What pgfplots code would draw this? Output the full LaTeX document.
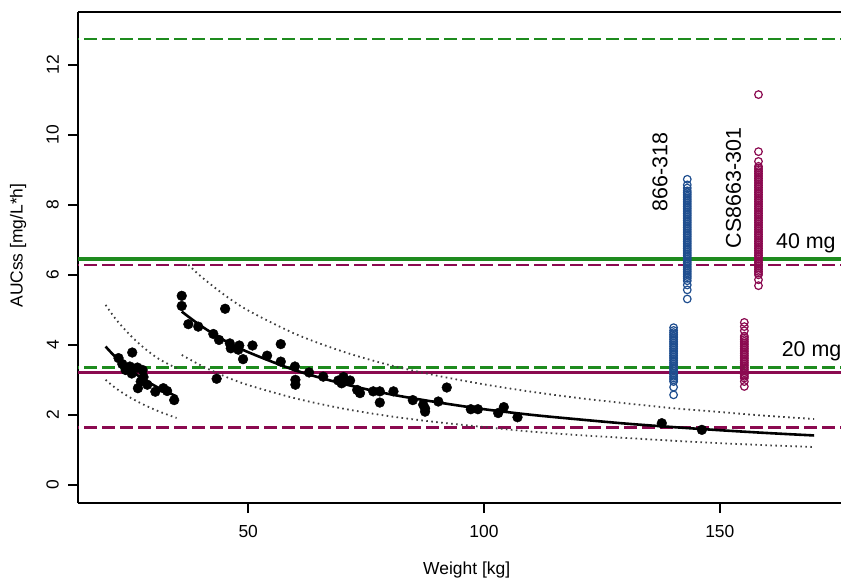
\documentclass[border=0pt]{standalone}
\usepackage{fontspec}
\setmainfont{Liberation Sans}
\usepackage{pgfplots}
\pgfplotsset{compat=1.18}
\definecolor{lgreen}{HTML}{1E8B1E}
\definecolor{lpurple}{HTML}{8B0A50}
\definecolor{lblue}{HTML}{1F4E8F}
\begin{document}
\begin{tikzpicture}
\begin{axis}[name=ax,
 width=763bp, height=491bp, scale only axis,
 xmin=13.9, xmax=175.7, ymin=-0.52, ymax=13.51,
 axis x line=box, axis y line=left,
 y axis line style={-},
 axis line style={line width=2.3bp},
 tick style={line width=2.2bp, black},
 tick align=outside, major tick length=10bp,
 tick pos=left,
 xtick={50,100,150}, ytick={0,2,...,12},
 /pgf/number format/assume math mode=true,
 ticklabel style={font=\fontsize{17.5}{20}\selectfont, inner sep=0pt},
 yticklabel style={rotate=90, anchor=south},
 xticklabel style={anchor=north},
 xticklabel shift=12bp,
 yticklabel shift=9bp,
 xlabel={Weight [kg]}, ylabel={AUCss [mg/L*h]},
 label style={font=\fontsize{17.5}{20}\selectfont},
 xlabel style={at={(axis description cs:0.5094,-0.1365)}, anchor=center},
 ylabel style={at={(axis description cs:-0.0786,0.5244)}, anchor=center, rotate=0},
 clip=true,
]
% reference lines
\addplot[lgreen, line width=2.2bp, dash pattern=on 13bp off 5bp] coordinates {(0,12.73) (200,12.73)};
\addplot[lgreen, line width=3.2bp] coordinates {(0,6.45) (200,6.45)};
\addplot[lpurple, line width=2.2bp, dash pattern=on 13bp off 5bp] coordinates {(0,6.28) (200,6.28)};
\addplot[lgreen, line width=2.2bp, dash pattern=on 13bp off 5bp] coordinates {(0,3.35) (200,3.35)};
\addplot[lpurple, line width=3.2bp] coordinates {(0,3.21) (200,3.21)};
\addplot[lpurple, line width=2.2bp, dash pattern=on 13bp off 5bp] coordinates {(0,1.64) (200,1.64)};

% dotted prediction bands
\addplot[black!75, line width=1.8bp, dash pattern=on 1.6bp off 3.4bp, smooth] coordinates {(19.75,5.14) (22,4.72) (25,4.27) (28,3.90) (31,3.60) (34.8,3.33)};
\addplot[black!75, line width=1.8bp, dash pattern=on 1.6bp off 3.4bp, smooth] coordinates {(19.75,3.00) (22,2.75) (25,2.49) (28,2.28) (31,2.10) (34.8,1.91)};
\addplot[black!75, line width=1.8bp, dash pattern=on 1.6bp off 3.4bp, smooth] coordinates {(37.3,6.29) (40,5.95) (45,5.42) (50,4.98) (60,4.31) (70,3.81) (80,3.42) (90,3.12) (100,2.87) (110,2.66) (120,2.48) (130,2.33) (140,2.19) (150,2.08) (160,1.97) (170,1.88)};
\addplot[black!75, line width=1.8bp, dash pattern=on 1.6bp off 3.4bp, smooth] coordinates {(35.9,3.71) (40,3.41) (45,3.10) (50,2.85) (60,2.47) (70,2.18) (80,1.96) (90,1.79) (100,1.65) (110,1.52) (120,1.42) (130,1.34) (140,1.26) (150,1.19) (160,1.13) (170,1.08)};

% fitted curves
\addplot[black, line width=2.6bp, smooth] coordinates {(19.75,3.95) (22,3.63) (25,3.28) (28,3.00) (31,2.77) (34.9,2.52)};
\addplot[black, line width=2.6bp, smooth] coordinates {(35.9,4.95) (40,4.54) (45,4.12) (50,3.79) (60,3.27) (70,2.89) (80,2.59) (90,2.36) (100,2.16) (110,2.00) (120,1.87) (130,1.75) (140,1.65) (150,1.56) (160,1.48) (170,1.41)};

% observed
\addplot[only marks, mark=*, mark size=4.9bp, black] coordinates {
(22.5,3.62) (23.3,3.45) (24.0,3.28) (24.9,3.38) (25.4,3.78) (25.3,3.18) (26.5,3.35) (27.6,3.28) (27.8,3.08) (27.2,2.95) (26.6,2.76) (28.6,2.86) (30.3,2.66) (32.0,2.76) (32.8,2.68) (34.3,2.42)
(35.9,5.40) (35.9,5.11) (45.1,5.03) (37.3,4.59) (39.4,4.52) (42.6,4.31) (43.8,4.14) (46.1,4.04) (46.3,3.90) (48.1,3.98) (47.9,3.86) (48.9,3.59) (50.9,3.98) (54.0,3.69) (56.9,4.02) (56.9,3.52) (59.9,3.38) (60.0,3.00) (60.0,2.86) (43.3,3.03) (62.9,3.21) (65.9,3.09) (69.1,2.98) (69.8,2.90) (70.2,3.08) (71.6,2.98) (73.1,2.71) (73.7,2.62) (76.5,2.67) (77.9,2.67) (77.9,2.35) (80.8,2.67) (84.9,2.42) (87.1,2.29) (87.5,2.18) (87.5,2.09) (90.3,2.38) (92.1,2.78) (97.2,2.16) (98.7,2.16) (103.0,2.05) (104.2,2.22) (107.1,1.93) (137.7,1.76) (146.2,1.57)};

% simulated 866-318 (blue)
\addplot[only marks, mark=o, mark size=3.8bp, lblue, line width=1.2bp] coordinates {
(143.1,5.31) (143.1,5.57) (143.1,5.71) (143.1,5.83) (143.1,5.90) (143.1,5.95) (143.1,6.00) (143.1,6.05) (143.1,6.10) (143.1,6.15) (143.1,6.20) (143.1,6.25) (143.1,6.30) (143.1,6.35) (143.1,6.40) (143.1,6.45) (143.1,6.50) (143.1,6.55) (143.1,6.60) (143.1,6.65) (143.1,6.70) (143.1,6.75) (143.1,6.80) (143.1,6.85) (143.1,6.90) (143.1,6.95) (143.1,7.00) (143.1,7.05) (143.1,7.10) (143.1,7.15) (143.1,7.20) (143.1,7.25) (143.1,7.30) (143.1,7.35) (143.1,7.40) (143.1,7.45) (143.1,7.50) (143.1,7.55) (143.1,7.60) (143.1,7.65) (143.1,7.70) (143.1,7.75) (143.1,7.80) (143.1,7.85) (143.1,7.90) (143.1,7.95) (143.1,8.00) (143.1,8.05) (143.1,8.10) (143.1,8.15) (143.1,8.20) (143.1,8.25) (143.1,8.30) (143.1,8.35) (143.1,8.40) (143.1,8.48) (143.1,8.57) (143.1,8.73)
(140.2,2.57) (140.2,2.79) (140.2,2.95) (140.2,3.00) (140.2,3.05) (140.2,3.10) (140.2,3.15) (140.2,3.20) (140.2,3.25) (140.2,3.30) (140.2,3.35) (140.2,3.40) (140.2,3.45) (140.2,3.50) (140.2,3.55) (140.2,3.60) (140.2,3.65) (140.2,3.70) (140.2,3.75) (140.2,3.80) (140.2,3.85) (140.2,3.90) (140.2,3.95) (140.2,4.00) (140.2,4.05) (140.2,4.10) (140.2,4.15) (140.2,4.20) (140.2,4.25) (140.2,4.30) (140.2,4.35) (140.2,4.41) (140.2,4.49)};

% simulated CS8663-301 (purple)
\addplot[only marks, mark=o, mark size=3.8bp, lpurple, line width=1.2bp] coordinates {
(158.2,5.69) (158.2,5.86) (158.2,6.00) (158.2,6.05) (158.2,6.10) (158.2,6.15) (158.2,6.20) (158.2,6.25) (158.2,6.30) (158.2,6.35) (158.2,6.40) (158.2,6.45) (158.2,6.50) (158.2,6.55) (158.2,6.60) (158.2,6.65) (158.2,6.70) (158.2,6.75) (158.2,6.80) (158.2,6.85) (158.2,6.90) (158.2,6.95) (158.2,7.00) (158.2,7.05) (158.2,7.10) (158.2,7.15) (158.2,7.20) (158.2,7.25) (158.2,7.30) (158.2,7.35) (158.2,7.40) (158.2,7.45) (158.2,7.50) (158.2,7.55) (158.2,7.60) (158.2,7.65) (158.2,7.70) (158.2,7.75) (158.2,7.80) (158.2,7.85) (158.2,7.90) (158.2,7.95) (158.2,8.00) (158.2,8.05) (158.2,8.10) (158.2,8.15) (158.2,8.20) (158.2,8.25) (158.2,8.30) (158.2,8.35) (158.2,8.40) (158.2,8.45) (158.2,8.50) (158.2,8.55) (158.2,8.60) (158.2,8.65) (158.2,8.70) (158.2,8.75) (158.2,8.80) (158.2,8.85) (158.2,8.90) (158.2,8.95) (158.2,9.00) (158.2,9.05) (158.2,9.10) (158.2,9.24) (158.2,9.52) (158.2,11.15)
(155.2,2.81) (155.2,2.95) (155.2,3.05) (155.2,3.10) (155.2,3.15) (155.2,3.20) (155.2,3.25) (155.2,3.30) (155.2,3.35) (155.2,3.40) (155.2,3.45) (155.2,3.50) (155.2,3.55) (155.2,3.60) (155.2,3.65) (155.2,3.70) (155.2,3.75) (155.2,3.80) (155.2,3.85) (155.2,3.90) (155.2,3.95) (155.2,4.00) (155.2,4.05) (155.2,4.10) (155.2,4.15) (155.2,4.20) (155.2,4.25) (155.2,4.40) (155.2,4.52) (155.2,4.64)};

% annotations
\node[rotate=90, anchor=west, inner sep=0pt, font=\fontsize{21.5}{24}\selectfont] at (axis cs:137.3,7.81) {866-318};
\node[rotate=90, anchor=west, inner sep=0pt, font=\fontsize{21.5}{24}\selectfont] at (axis cs:152.9,6.76) {CS8663-301};
\node[anchor=base west, inner sep=0pt, font=\fontsize{21.5}{24}\selectfont] at (axis cs:161.9,6.76) {40 mg};
\node[anchor=base west, inner sep=0pt, font=\fontsize{21.5}{24}\selectfont] at (axis cs:163.1,3.67) {20 mg};
\end{axis}
\pgfresetboundingbox
\path ([shift={(-78bp,-79bp)}]ax.south west) rectangle ([shift={(0bp,12bp)}]ax.north east);
\end{tikzpicture}
\end{document}
